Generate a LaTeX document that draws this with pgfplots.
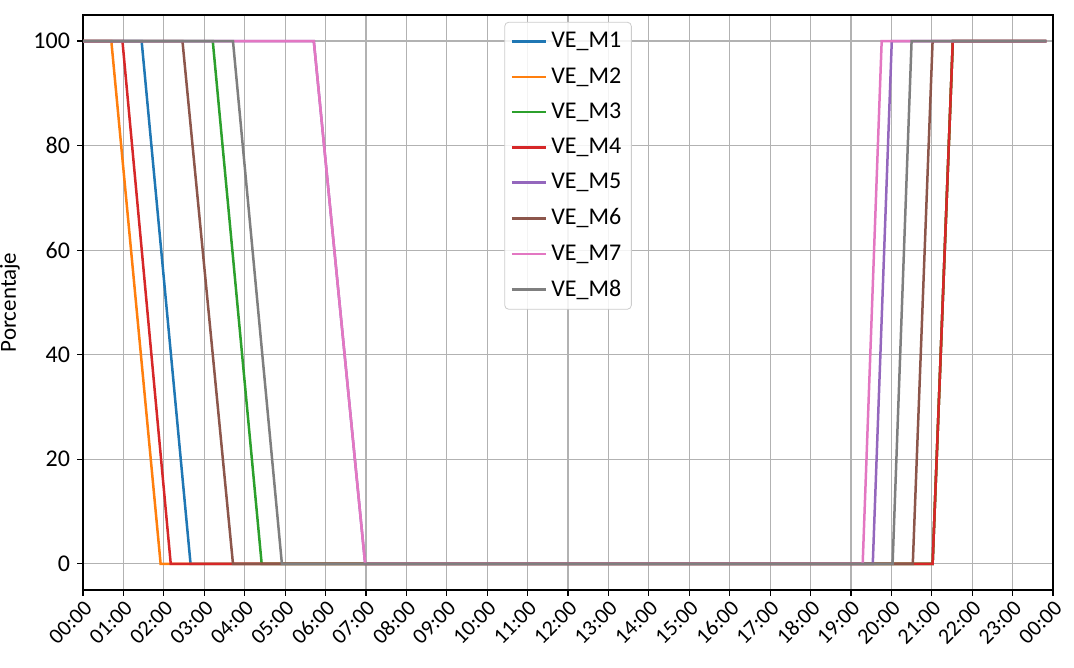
\documentclass[border=0pt]{standalone}
\usepackage{fontspec}
\setmainfont{Carlito}
\usepackage{pgfplots}
\pgfplotsset{compat=1.18}

\definecolor{c0}{HTML}{1F77B4}
\definecolor{c1}{HTML}{FF7F0E}
\definecolor{c2}{HTML}{2CA02C}
\definecolor{c3}{HTML}{D62728}
\definecolor{c4}{HTML}{9467BD}
\definecolor{c5}{HTML}{8C564B}
\definecolor{c6}{HTML}{E377C2}
\definecolor{c7}{HTML}{7F7F7F}

\begin{document}
\begin{tikzpicture}
  \begin{axis}[
      scale only axis,
      width=485pt, height=287.5pt,
      xmin=0, xmax=24,
      ymin=-5, ymax=105,
      xtick={0,1,...,24},
      xticklabels={00:00,01:00,02:00,03:00,04:00,05:00,06:00,07:00,08:00,09:00,10:00,11:00,12:00,13:00,14:00,15:00,16:00,17:00,18:00,19:00,20:00,21:00,22:00,23:00,00:00},
      x tick label style={rotate=45, anchor=north east, inner sep=1pt, font=\fontsize{11}{12}\selectfont},
      ytick={0,20,40,60,80,100},
      /pgf/number format/assume math mode=true,
      y tick label style={font=\fontsize{12}{13}\selectfont},
      ylabel={Porcentaje},
      ylabel style={font=\fontsize{11.5}{13}\selectfont},
      grid=major,
      major grid style={color=black!30, line width=0.6pt},
      tick align=outside,
      major tick length=3pt,
      tick style={black, line width=0.6pt},
      axis line style={line width=0.7pt},
      xtick pos=bottom, ytick pos=left,
      legend style={at={(0.5,0.988)}, anchor=north,
        font=\fontsize{12}{13}\selectfont,
        draw=black!20, rounded corners=2pt, fill=white, fill opacity=0.85, text opacity=1,
        row sep=4.4pt, inner xsep=3pt, inner ysep=3pt},
      legend cell align=left,
      legend image code/.code={\draw[#1] (0cm,0cm) -- (0.6cm,0cm);},
      every axis plot/.append style={line width=1.25pt},
    ]
    \addplot[c0] coordinates {(0,100) (1.45,100) (2.66,0) (21.02,0) (21.52,100) (23.833,100)};
    \addlegendentry{VE\_M1}
    \addplot[c1] coordinates {(0,100) (0.70,100) (1.92,0) (21.02,0) (21.52,100) (23.833,100)};
    \addlegendentry{VE\_M2}
    \addplot[c2] coordinates {(0,100) (3.21,100) (4.42,0) (21.02,0) (21.52,100) (23.833,100)};
    \addlegendentry{VE\_M3}
    \addplot[c3] coordinates {(0,100) (0.975,100) (2.17,0) (21.02,0) (21.52,100) (23.833,100)};
    \addlegendentry{VE\_M4}
    \addplot[c4] coordinates {(0,100) (5.71,100) (6.98,0) (19.54,0) (20.01,100) (23.833,100)};
    \addlegendentry{VE\_M5}
    \addplot[c5] coordinates {(0,100) (2.46,100) (3.71,0) (20.53,0) (21.02,100) (23.833,100)};
    \addlegendentry{VE\_M6}
    \addplot[c6] coordinates {(0,100) (5.71,100) (6.98,0) (19.29,0) (19.76,100) (23.833,100)};
    \addlegendentry{VE\_M7}
    \addplot[c7] coordinates {(0,100) (3.71,100) (4.92,0) (20.03,0) (20.50,100) (23.833,100)};
    \addlegendentry{VE\_M8}
    \coordinate (bl) at (rel axis cs:-0.0856,-0.1357);
    \coordinate (tr) at (rel axis cs:1.0216,1.026);
  \end{axis}
  \pgfresetboundingbox
  \path (bl) rectangle (tr);
\end{tikzpicture}
\end{document}
